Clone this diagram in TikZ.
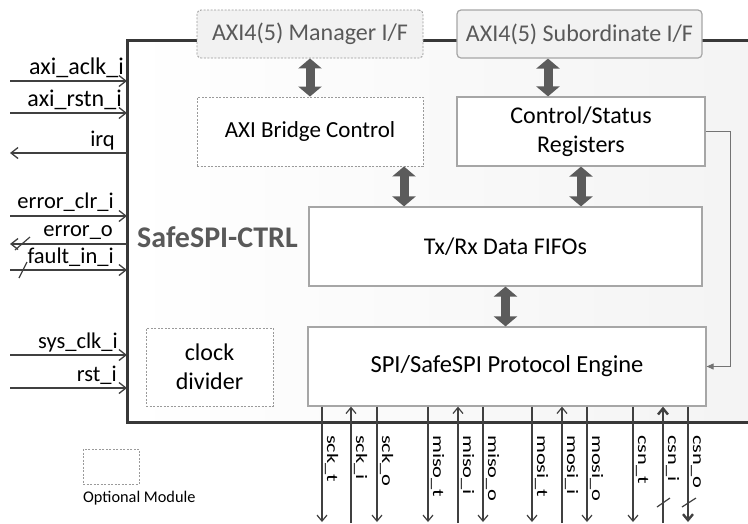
\documentclass[tikz,border=0pt]{standalone}
\usepackage{fontspec}
\setmainfont{Carlito}
\usetikzlibrary{arrows.meta}

\definecolor{framegray}{HTML}{383838}
\definecolor{boxline}{HTML}{A6A6A6}
\definecolor{dashline}{HTML}{9A9A9A}
\definecolor{iffill}{HTML}{F2F2F2}
\definecolor{textgray}{HTML}{595959}
\definecolor{arrowgray}{HTML}{5B5B5B}
\definecolor{sigline}{HTML}{404040}

\newcommand{\pintext}[1]{\scalebox{1.4}[1]{#1}}

\begin{document}
\begin{tikzpicture}[x=1pt,y=-1pt,
  ctrl box/.style={draw=framegray,line width=3pt,left color=white,right color=black!5,inner sep=0pt,outer sep=0pt},
  solid box/.style={draw=boxline,line width=1.2pt,fill=white,align=center,font=\fontsize{24}{29}\selectfont},
  opt line/.style={draw=dashline,line width=0.9pt,dash pattern=on 2pt off 1.5pt},
  opt box/.style={solid box,opt line},
  if box/.style={solid box,fill=iffill,rounded corners=4pt,text=textgray},
  bus arrow/.style={draw=arrowgray,line width=9pt,{Triangle[length=10pt,width=23pt]}-{Triangle[length=10pt,width=23pt]}},
  sig in/.style={draw=sigline,line width=1.3pt,-{Straight Barb[length=7pt,width=11pt]}},
  sig out/.style={draw=sigline,line width=1.3pt,{Straight Barb[length=7pt,width=11pt]}-},
  sig lab/.style={anchor=base east,inner sep=0pt,font=\fontsize{22.5}{22}\selectfont},
  pin wire/.style={draw=sigline,line width=1.2pt,-{Straight Barb[length=6pt,width=10pt]}},
  pin bus/.style={pin wire,line width=2.4pt},
  pin lab/.style={rotate=-90,anchor=base west,inner sep=0pt,font=\fontsize{16}{16}\selectfont},
  feedback/.style={draw=black!55,line width=1pt,-{Triangle[length=7pt,width=6pt]}},
  slash/.style={draw=sigline,line width=1.2pt}]

  \useasboundingbox (0,0) rectangle (748,523);
  \clip (0,0) rectangle (748,523);

  % controller frame, runs off the right edge
  \node[ctrl box,anchor=north west,minimum width=700,minimum height=382] (ctrl) at (127,40) {};
  \node[anchor=base,inner sep=0pt,text=textgray,font=\fontsize{30}{30}\selectfont\bfseries] (title) at (217.5,247) {SafeSPI-CTRL};

  % blocks
  \node[if box,opt line,minimum width=226,minimum height=48] (mgr) at (310,34) {AXI4(5) Manager I/F};
  \node[if box,minimum width=245,minimum height=48] (sub) at (579.5,34) {AXI4(5) Subordinate I/F};
  \node[opt box,minimum width=226,minimum height=69,font=\fontsize{23}{29}\selectfont] (bridge) at (310,131.5) {AXI Bridge Control};
  \node[solid box,minimum width=248,minimum height=69] (csr) at (581,131.5) {Control/Status\\Registers};
  \node[solid box,minimum width=393,minimum height=79] (fifo) at (505.5,246.5) {Tx/Rx Data FIFOs};
  \node[solid box,minimum width=398,minimum height=79,font=\fontsize{24.5}{29}\selectfont] (eng) at (507,366.5) {SPI/SafeSPI Protocol Engine};
  \node[opt box,minimum width=127,minimum height=78] (clkdiv) at (209.5,367) {clock\\divider};

  % legend
  \node[opt box,minimum width=56,minimum height=35] (legend) at (111,466.5) {};
  \node[anchor=base west,inner sep=0pt,font=\fontsize{16.3}{16}\selectfont] (legendlab) at (83,502) {Optional Module};

  % internal buses
  \coordinate (ax2) at (548,0);
  \coordinate (ax3) at (404,0);
  \draw[bus arrow] (mgr.south) -- (bridge.north);
  \draw[bus arrow] (ax2 |- sub.south) -- (ax2 |- csr.north);
  \draw[bus arrow] (ax3 |- bridge.south) -- (ax3 |- fifo.north);
  \draw[bus arrow] (csr.south) -- (csr.south |- fifo.north);
  \draw[bus arrow] (fifo.south) -- (fifo.south |- eng.north);
  \draw[feedback] (csr.east) -- ++(25,0) |- (eng.east);

  % left side signals
  \coordinate (aclk) at (10,81);
  \coordinate (rstn) at (10,113);
  \coordinate (irq) at (10,153);
  \coordinate (errclr) at (10,216);
  \coordinate (erro) at (10,244);
  \coordinate (fault) at (10,270);
  \coordinate (sysclk) at (10,355);
  \coordinate (rst) at (10,388);

  \draw[sig in] (aclk) -- (aclk -| ctrl.west);
  \draw[sig in] (rstn) -- (rstn -| ctrl.west);
  \draw[sig out] (irq) -- (irq -| ctrl.west);
  \draw[sig in] (errclr) -- (errclr -| ctrl.west);
  \draw[sig out] (erro) -- (erro -| ctrl.west);
  \draw[sig in] (fault) -- (fault -| ctrl.west);
  \draw[sig in] (sysclk) -- (sysclk -| ctrl.west);
  \draw[sig in] (rst) -- (rst -| ctrl.west);
  \draw[slash] (15,250) -- (30,237);
  \draw[slash] (19,278) -- (27,262);

  \node[sig lab,font=\fontsize{24}{24}\selectfont] (laclk) at (124,74) {axi\_aclk\_i};
  \node[sig lab,font=\fontsize{24}{24}\selectfont] (lrstn) at (122,106) {axi\_rstn\_i};
  \node[sig lab] (lirq) at (115,146) {irq};
  \node[sig lab] (lerrclr) at (114,208) {error\_clr\_i};
  \node[sig lab] (lerro) at (113,236) {error\_o};
  \node[sig lab] (lfault) at (114,263) {fault\_in\_i};
  \node[sig lab] (lsysclk) at (118,348) {sys\_clk\_i};
  \node[sig lab] (lrst) at (117,381) {rst\_i};

  % SPI pins
  \coordinate (sckt) at (322,522);
  \coordinate (scki) at (351,523);
  \coordinate (scko) at (377,522);
  \coordinate (misot) at (428,522);
  \coordinate (misoi) at (458,523);
  \coordinate (misoo) at (483,522);
  \coordinate (mosit) at (532,522);
  \coordinate (mosii) at (562,523);
  \coordinate (mosio) at (587,522);
  \coordinate (csnt) at (633,522);
  \coordinate (csni) at (663,523);
  \coordinate (csno) at (688,522);

  \draw[pin wire] (sckt |- eng.south) -- (sckt);
  \draw[pin wire] (scki) -- (scki |- eng.south);
  \draw[pin wire] (scko |- eng.south) -- (scko);
  \draw[pin wire] (misot |- eng.south) -- (misot);
  \draw[pin wire] (misoi) -- (misoi |- eng.south);
  \draw[pin wire] (misoo |- eng.south) -- (misoo);
  \draw[pin wire] (mosit |- eng.south) -- (mosit);
  \draw[pin wire] (mosii) -- (mosii |- eng.south);
  \draw[pin wire] (mosio |- eng.south) -- (mosio);
  \draw[pin wire] (csnt |- eng.south) -- (csnt);
  \draw[pin bus] (csni) -- (csni |- eng.south);
  \draw[pin bus] (csno |- eng.south) -- (csno);
  \draw[slash] (657,507) -- (670,498);
  \draw[slash] (682,507) -- (696,498);

  \node[pin lab] (lsckt) at (327,435) {\pintext{sck\_t}};
  \node[pin lab] (lscki) at (356,435) {\pintext{sck\_i}};
  \node[pin lab] (lscko) at (382,435) {\pintext{sck\_o}};
  \node[pin lab] (lmisot) at (433,435) {\pintext{miso\_t}};
  \node[pin lab] (lmisoi) at (463,435) {\pintext{miso\_i}};
  \node[pin lab] (lmisoo) at (488,435) {\pintext{miso\_o}};
  \node[pin lab] (lmosit) at (537,435) {\pintext{mosi\_t}};
  \node[pin lab] (lmosii) at (567,435) {\pintext{mosi\_i}};
  \node[pin lab] (lmosio) at (592,435) {\pintext{mosi\_o}};
  \node[pin lab] (lcsnt) at (638,435) {\pintext{csn\_t}};
  \node[pin lab] (lcsni) at (668,435) {\pintext{csn\_i}};
  \node[pin lab] (lcsno) at (693,435) {\pintext{csn\_o}};
\end{tikzpicture}
\end{document}
